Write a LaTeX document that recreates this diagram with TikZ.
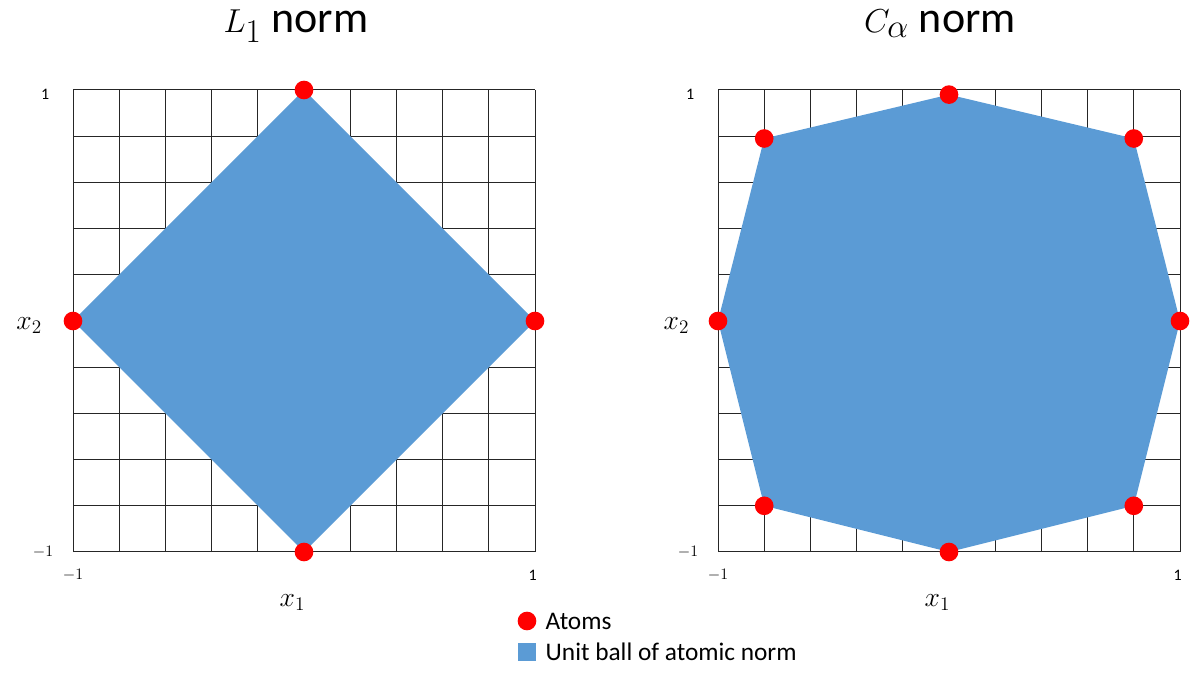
\documentclass[tikz,border=0pt]{standalone}
\usepackage{fontspec}
\setmainfont{Carlito}
\usepackage{tikz}
\usepackage{xcolor}

\definecolor{ballblue}{HTML}{5B9BD5}
\tikzset{
  atom/.style={circle, fill=red, inner sep=0pt, minimum size=14pt},
  ticklbl/.style={font=\fontsize{12}{14}\selectfont},
  axislbl/.style={font=\fontsize{21}{25}\selectfont},
  titlelbl/.style={anchor=base, inner sep=0pt, font=\fontsize{33}{38}\selectfont},
  legendlbl/.style={anchor=west, font=\fontsize{19}{22}\selectfont},
  gridline/.style={line width=0.75pt, black!85},
}

\begin{document}
\begin{tikzpicture}[x=0.75pt, y=-0.75pt]
\useasboundingbox (0,0) rectangle (1203,673);

% titles
\node[titlelbl] (tl1) at (296,33) {$L_1$ norm};
\node[titlelbl] (tcal) at (940,33) {$C_\alpha$ norm};

% L1 ball
\begin{scope}[shift={(304,321)}, x=173.25pt, y=173.25pt]
\draw[gridline] (-1,-1) grid[step=0.2] (1.001,1.001);
\fill[ballblue] (0,1) -- (1,0) -- (0,-1) -- (-1,0) -- cycle;
\node[atom] (a1t) at (0,1) {};
\node[atom] (a1r) at (1,0) {};
\node[atom] (a1b) at (0,-1) {};
\node[atom] (a1l) at (-1,0) {};
\node[ticklbl] (y1max) at (-1.12,0.98) {1};
\node[ticklbl] (y1min) at (-1.13,-1) {$-1$};
\node[ticklbl] (x1min) at (-1,-1.1) {$-1$};
\node[ticklbl] (x1max) at (0.99,-1.1) {1};
\node[axislbl] (x1lbl) at (-0.05,-1.22) {$x_1$};
\node[axislbl] (x2lbl) at (-1.19,-0.02) {$x_2$};
\end{scope}

% C_alpha ball
\begin{scope}[shift={(949,321)}, x=173.25pt, y=173.25pt]
\draw[gridline] (-1,-1) grid[step=0.2] (1.001,1.001);
\fill[ballblue] (0,0.98) -- (0.8,0.79) -- (1,0) -- (0.8,-0.8) -- (0,-1)
  -- (-0.8,-0.8) -- (-1,0) -- (-0.8,0.79) -- cycle;
\node[atom] (c1) at (0,0.98) {};
\node[atom] (c2) at (0.8,0.79) {};
\node[atom] (c3) at (1,0) {};
\node[atom] (c4) at (0.8,-0.8) {};
\node[atom] (c5) at (0,-1) {};
\node[atom] (c6) at (-0.8,-0.8) {};
\node[atom] (c7) at (-1,0) {};
\node[atom] (c8) at (-0.8,0.79) {};
\node[ticklbl] (y2max) at (-1.12,0.98) {1};
\node[ticklbl] (y2min) at (-1.13,-1) {$-1$};
\node[ticklbl] (x2min) at (-1,-1.1) {$-1$};
\node[ticklbl] (x2max) at (0.99,-1.1) {1};
\node[axislbl] (x1lblc) at (-0.05,-1.22) {$x_1$};
\node[axislbl] (x2lblc) at (-1.18,-0.02) {$x_2$};
\end{scope}

% legend
\node[atom] (katom) at (527,621) {};
\node[legendlbl] (latom) at (541,621) {Atoms};
\node[fill=ballblue, inner sep=0pt, minimum size=13pt] (kball) at (527,652) {};
\node[legendlbl] (lball) at (541,652) {Unit ball of atomic norm};
\end{tikzpicture}
\end{document}
